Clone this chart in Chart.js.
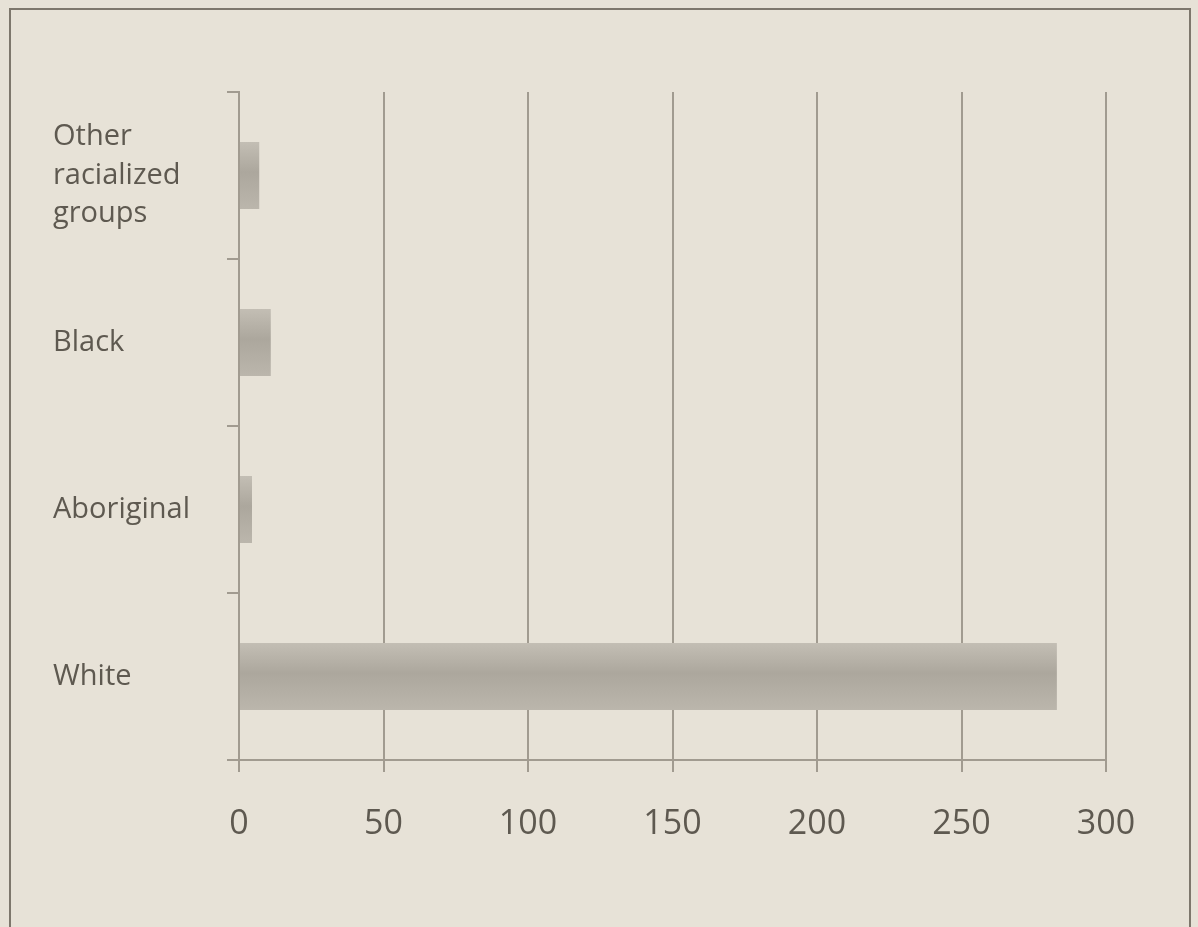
<!DOCTYPE html>
<html>
<head>
<meta charset="utf-8">
<script src="https://cdn.jsdelivr.net/npm/chart.js@4"></script>
<style>
  html, body { margin: 0; padding: 0; background: #e7e2d7; }
  #wrap { position: relative; width: 1198px; height: 927px; overflow: hidden; }
  #frame { position: absolute; left: 9px; top: 8px; width: 1178px; height: 940px;
           border: 2px solid #7d776c; pointer-events: none; }
  canvas { display: block; }
</style>
</head>
<body>
<div id="wrap">
  <canvas id="chart" width="1198" height="927"></canvas>
  <div id="frame"></div>
</div>
<script>
const groups = [['Other', 'racialized', 'groups'], 'Black', 'Aboriginal', 'White'];
const counts = [7, 11, 4.5, 283];
const xTicks = [0, 50, 100, 150, 200, 250, 300];

const INK = '#5e5950';
const LINE = '#a19b90';
const BAR_PCT = 0.4;

// soft vertical shading like the printed bars
function barFill(ctx) {
  const y = ctx.chart.scales.y;
  if (!y) return '#b2ada3';
  const c = y.getPixelForValue(ctx.dataIndex);
  const h = (y.height / groups.length) * BAR_PCT;
  if (!isFinite(c) || !isFinite(h) || h <= 0) return '#b2ada3';
  const g = ctx.chart.ctx.createLinearGradient(0, c - h / 2, 0, c + h / 2);
  g.addColorStop(0, '#c3beb4');
  g.addColorStop(0.45, '#aca79d');
  g.addColorStop(1, '#bbb6ac');
  return g;
}

new Chart(document.getElementById('chart'), {
  type: 'bar',
  data: {
    labels: groups,
    datasets: [{
      data: counts,
      backgroundColor: barFill,
      borderWidth: 0,
      categoryPercentage: 1,
      barPercentage: BAR_PCT,
    }]
  },
  options: {
    indexAxis: 'y',
    responsive: false,
    animation: false,
    layout: { padding: { left: 53, right: 92, top: 92, bottom: 0 } },
    plugins: { legend: { display: false }, tooltip: { enabled: false } },
    scales: {
      x: {
        min: 0, max: 300,
        afterBuildTicks: s => { s.ticks = xTicks.map(v => ({ value: v })); },
        afterFit: s => { s.height = 167; },
        border: { display: true, color: LINE, width: 2 },
        grid: { color: LINE, lineWidth: 2, tickLength: 12 },
        ticks: { color: INK, font: { family: 'Open Sans', size: 34 }, padding: 32, maxRotation: 0 }
      },
      y: {
        afterFit: s => { s.width = 186; },
        border: { display: true, color: LINE, width: 2 },
        grid: { offset: true, drawOnChartArea: false, color: LINE, lineWidth: 2, tickLength: 12 },
        ticks: { color: INK, crossAlign: 'far', font: { family: 'Open Sans', size: 29, lineHeight: 1.33 } }
      }
    }
  }
});
</script>
</body>
</html>
